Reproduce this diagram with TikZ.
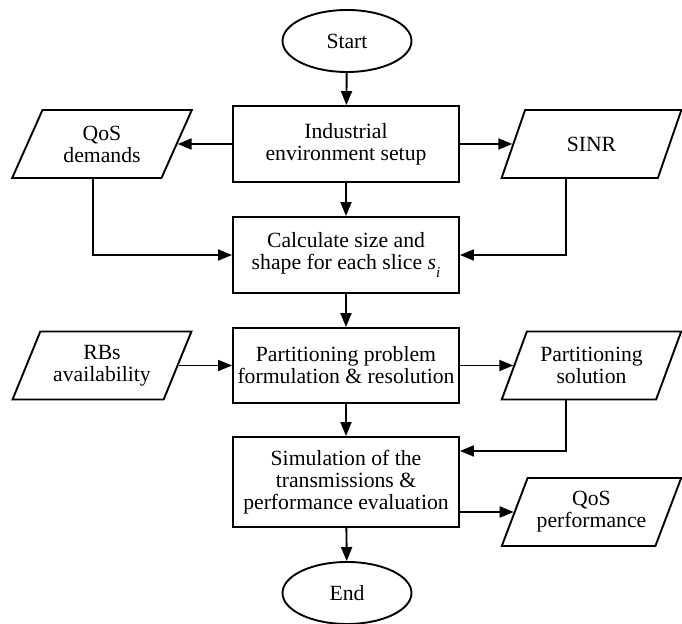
\documentclass[tikz,border=0pt]{standalone}
\usepackage{fontspec}
\setmainfont{Liberation Serif}
\usetikzlibrary{shapes.geometric, arrows.meta}

\begin{document}
\begin{tikzpicture}[x=0.5pt,y=0.5pt,
  font=\fontsize{10.85}{11}\selectfont,
  term/.style={draw, line width=0.95pt, ellipse, minimum width=64.5pt, minimum height=31pt, inner sep=0pt},
  proc/.style={draw, line width=0.95pt, rectangle, minimum width=113pt, align=center, inner sep=0pt},
  datain/.style={draw, line width=0.95pt, trapezium, trapezium left angle=63, trapezium right angle=117,
    trapezium stretches=true, minimum width=90pt, minimum height=34pt, align=center, inner sep=1pt},
  flow/.style={line width=0.95pt, -{Triangle[length=7pt,width=5.5pt]}}]
\useasboundingbox (0,0) rectangle (682,624);
% main column
\node[term] (start) at (347,583) {Start};
\node[proc, minimum height=38pt] (setup) at (346,480) {Industrial\\environment setup};
\node[proc, minimum height=38pt] (calc) at (346,369) {Calculate size and\\shape for each slice \textit{s}\raisebox{-0.35em}{\fontsize{7.5}{8}\selectfont\textit{i}}};
\node[proc, minimum height=37.5pt] (part) at (346,258.5) {Partitioning problem\\formulation \& resolution};
\node[proc, minimum height=45pt] (sim) at (346,142) {Simulation of the\\transmissions \&\\performance evaluation};
\node[term] (end) at (347,31) {End};
% inputs and outputs
\node[datain] (qosd) at (102,480) {QoS\\demands};
\node[datain] (sinr) at (591.5,480) {SINR};
\node[datain] (rbs) at (102,258.5) {RBs\\availability};
\node[datain] (psol) at (591.5,258.5) {Partitioning\\solution};
\node[datain] (qosp) at (591.5,112) {QoS\\performance};
% connectors
\draw[flow] (start) -- (setup);
\draw[flow] (setup.west) -- (qosd.east);
\draw[flow] (setup.east) -- (sinr.west);
\draw[flow] (setup) -- (calc);
\draw[flow] ([xshift=-4.5pt]qosd.south) |- (calc.west);
\draw[flow] ([xshift=-12.75pt]sinr.south) |- (calc.east);
\draw[flow] (calc) -- (part);
\draw[flow] (rbs.east) -- (rbs.east -| part.west);
\draw[flow] (part.east) -- (part.east -| psol.west);
\draw[flow] (part) -- (sim);
\draw[flow] ([xshift=-12.75pt]psol.south) |- ([yshift=15.5pt]sim.east);
\draw[flow] (qosp.west -| sim.east) -- (qosp.west);
\draw[flow] (sim) -- (end);
\end{tikzpicture}
\end{document}
